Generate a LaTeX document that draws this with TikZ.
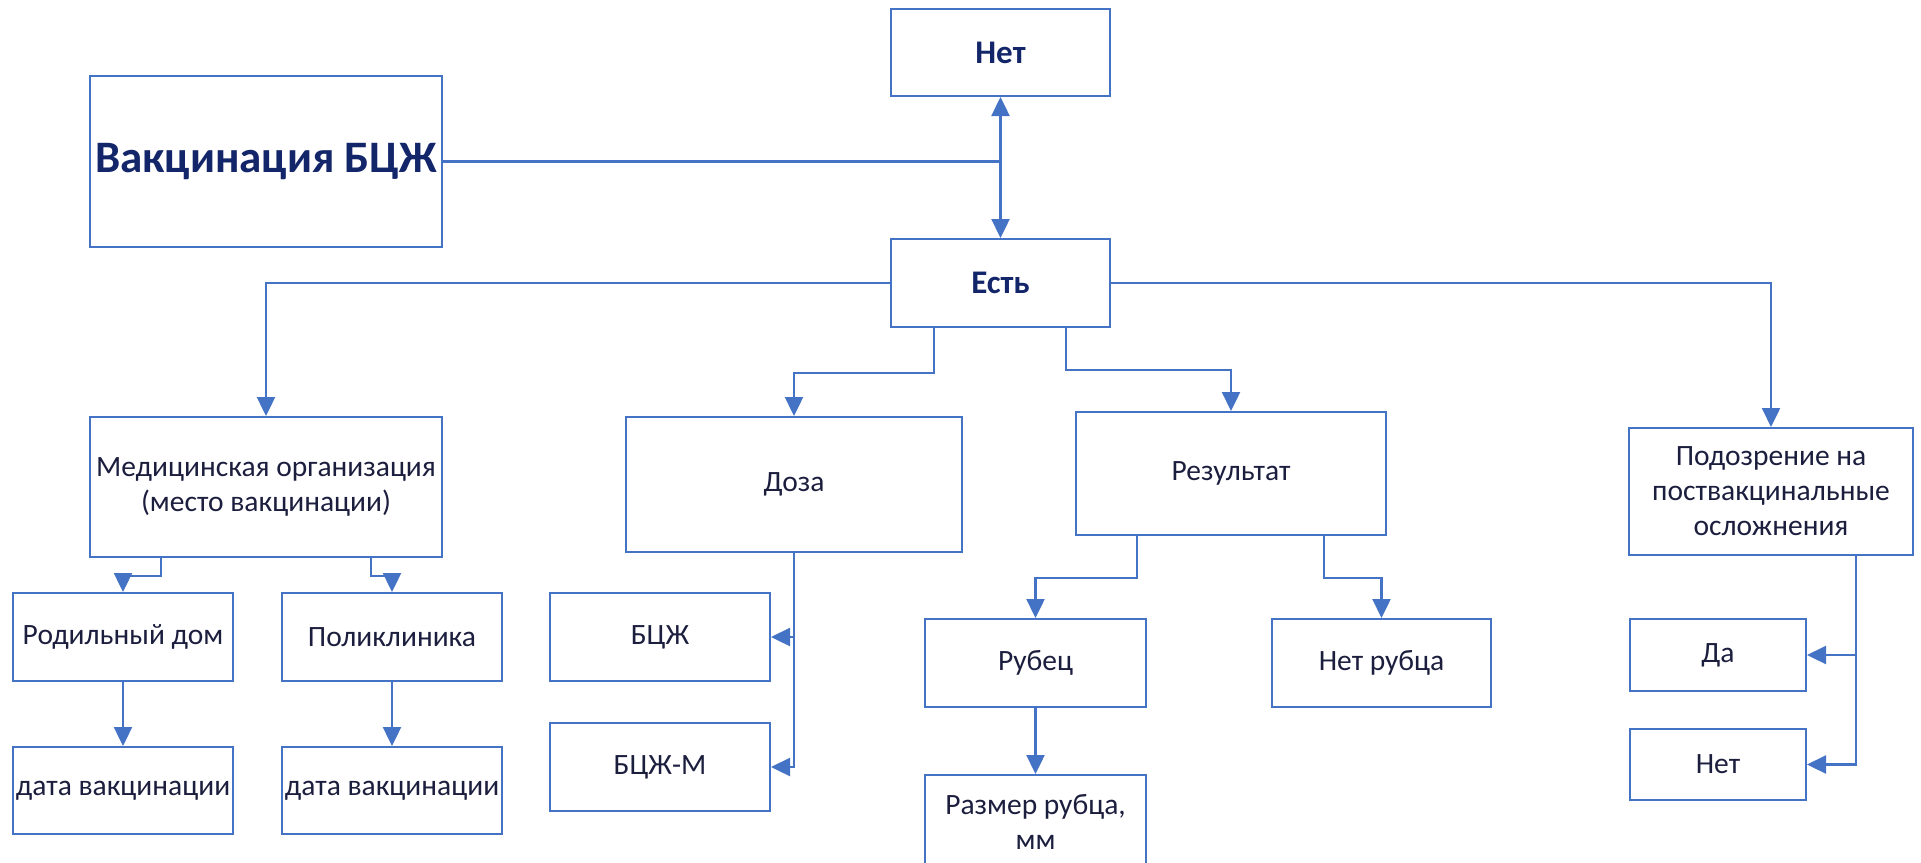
\documentclass[tikz,border=0pt]{standalone}
\usepackage{fontspec}
\setmainfont{Carlito}
\usetikzlibrary{arrows.meta}
\definecolor{boxblue}{HTML}{4472C4}
\definecolor{headnavy}{HTML}{14266A}
\definecolor{bodyink}{HTML}{1C1E3E}
\begin{document}
\begin{tikzpicture}[x=1pt,y=-1pt,
  box/.style={draw=boxblue, line width=2pt, fill=white, inner sep=0pt, align=center,
    text=bodyink, font=\fontsize{29.5}{35}\selectfont},
  headbox/.style={box, text=headnavy, font=\fontsize{33}{40}\selectfont\bfseries},
  link/.style={draw=boxblue, line width=2.4pt},
  arr/.style={link, -{Triangle[length=19pt 0 0,width=18pt 0 0]}}]
\useasboundingbox (0,0) rectangle (1921,862);
\clip (0,0) rectangle (1921,862);

% top level
\node[headbox, minimum width=352pt, minimum height=171pt, font=\fontsize{45}{52}\selectfont\bfseries] (vacc) at (266,161.5) {Вакцинация БЦЖ};
\node[headbox, minimum width=219pt, minimum height=87pt] (net) at (1000.5,52.5) {Нет};
\node[headbox, minimum width=219pt, minimum height=88pt] (est) at (1000.5,283) {Есть};

% second level
\node[box, minimum width=352pt, minimum height=140pt] (med) at (266,487) {Медицинская организация\\(место вакцинации)};
\node[box, minimum width=336pt, minimum height=135pt] (doza) at (794,484.5) {Доза};
\node[box, minimum width=310pt, minimum height=123pt] (rez) at (1231,473.5) {Результат};
\node[box, minimum width=284pt, minimum height=127pt] (podo) at (1771,491.5) {Подозрение на\\поствакцинальные\\осложнения};

% third level
\node[box, minimum width=220pt, minimum height=88pt] (rod) at (123,637) {Родильный дом};
\node[box, minimum width=220pt, minimum height=88pt] (poli) at (392,637) {Поликлиника};
\node[box, minimum width=220pt, minimum height=87pt] (data1) at (123,790.5) {дата вакцинации};
\node[box, minimum width=220pt, minimum height=87pt] (data2) at (392,790.5) {дата вакцинации};
\node[box, minimum width=220pt, minimum height=88pt] (bcg) at (660,637) {БЦЖ};
\node[box, minimum width=220pt, minimum height=88pt] (bcgm) at (660,767) {БЦЖ-М};
\node[box, minimum width=221pt, minimum height=88pt] (rub) at (1035.5,663) {Рубец};
\node[box, minimum width=219pt, minimum height=88pt] (netrub) at (1381.5,663) {Нет рубца};
\node[box, minimum width=221pt, minimum height=94pt] (razm) at (1035.5,822) {Размер рубца,\\мм};
\node[box, minimum width=176pt, minimum height=72pt] (da) at (1718,655) {Да};
\node[box, minimum width=176pt, minimum height=71pt] (net2) at (1718,764.5) {Нет};

% branch points
\coordinate (vj) at (vacc.east -| net.south);
\coordinate (e1) at ([xshift=-66.5pt]est.south);
\coordinate (e2) at ([xshift=65.5pt]est.south);
\coordinate (r1) at ([xshift=-94pt]rez.south);
\coordinate (r2) at ([xshift=93pt]rez.south);
\coordinate (m1) at ([xshift=-105pt]med.south);
\coordinate (m2) at ([xshift=105pt]med.south);
\coordinate (pj) at ([xshift=85pt]podo.south);

% connectors
\draw[link] (vacc.east) -- (vj);
\draw[arr] (vj) -- (net.south);
\draw[arr] (vj) -- (est.north);
\draw[arr] (est.west) -| (med.north);
\draw[arr] (est.east) -| (podo.north);
\draw[arr] (e1) -- ++(0,45) -| (doza.north);
\draw[arr] (e2) -- ++(0,42) -| (rez.north);
\draw[arr] (r1) -- ++(0,42) -| (rub.north);
\draw[arr] (r2) -- ++(0,42) -| (netrub.north);
\draw[arr] (rub.south) -- (razm.north);
\draw[arr] (m1) -- ++(0,18) -| (rod.north);
\draw[arr] (m2) -- ++(0,18) -| (poli.north);
\draw[arr] (rod.south) -- (data1.north);
\draw[arr] (poli.south) -- (data2.north);
\draw[arr] (doza.south) |- (bcgm.east);
\draw[arr] (doza.south |- bcg.east) -- (bcg.east);
\draw[arr] (pj) |- (net2.east);
\draw[arr] (pj |- da.east) -- (da.east);
\end{tikzpicture}
\end{document}
